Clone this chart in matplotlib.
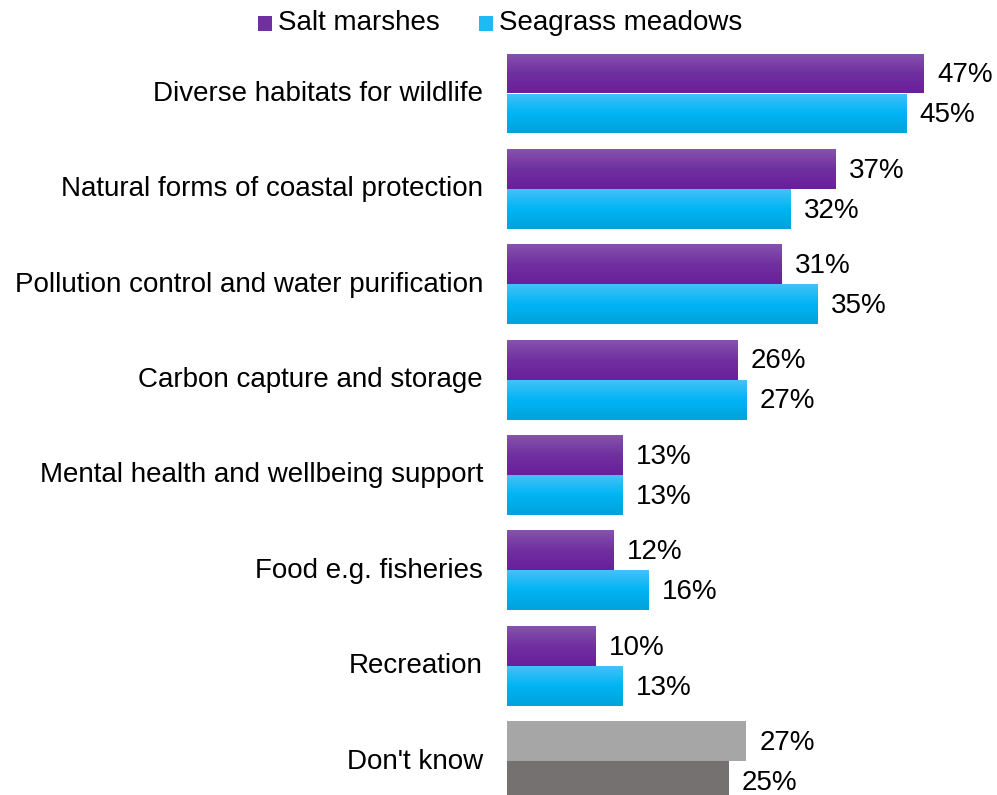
import matplotlib.pyplot as plt
import numpy as np
from matplotlib.colors import LinearSegmentedColormap
from matplotlib.patches import Rectangle

plt.rcParams['font.family'] = ['Liberation Sans', 'DejaVu Sans']

categories = ['Diverse habitats for wildlife', 'Natural forms of coastal protection',
              'Pollution control and water purification', 'Carbon capture and storage',
              'Mental health and wellbeing support', 'Food e.g. fisheries',
              'Recreation', "Don't know"]
salt_marshes = [47, 37, 31, 26, 13, 12, 10, 27]
seagrass = [45, 32, 35, 27, 13, 16, 13, 25]

purple_grad = LinearSegmentedColormap.from_list('pg', ['#8653ad', '#7030a0', '#6a1f9c'])
cyan_grad = LinearSegmentedColormap.from_list('cg', ['#45c1f8', '#00b4f4', '#00a2da'])

fig = plt.figure(figsize=(9.97, 7.95), dpi=100)
ax = fig.add_axes([507 / 997, 0, 490 / 997, 1])

pitch = 95.36
h = 40 / pitch
fs = 20

def grad_bar(y0, width, cmap):
    # y0 is the top edge of the bar (axis is inverted)
    rect = Rectangle((0, y0), width, h, facecolor='none', edgecolor='none')
    ax.add_patch(rect)
    grad = np.linspace(0, 1, 64).reshape(-1, 1)
    im = ax.imshow(grad, cmap=cmap, aspect='auto', extent=(0, width, y0 + h, y0),
                   interpolation='bilinear')
    im.set_clip_path(rect)

for i, (cat, a, b) in enumerate(zip(categories, salt_marshes, seagrass)):
    if cat == "Don't know":
        ax.barh(i - h / 2, a, height=h, color='#a6a6a6')
        ax.barh(i + h / 2, b, height=h, color='#767171')
    else:
        grad_bar(i - h, a, purple_grad)
        grad_bar(i, b, cyan_grad)
    ax.text(a + 1.5, i - h / 2 + 0.02, f'{a}%', va='center', ha='left', fontsize=fs)
    ax.text(b + 1.5, i + h / 2 + 0.02, f'{b}%', va='center', ha='left', fontsize=fs)
    fig.text(483 / 997, 1 - (94 + i * pitch) / 795, cat, ha='right', va='center', fontsize=fs)

ax.set_xlim(0, 490 / 8.87)
ax.set_ylim((795 - 93.5) / pitch, -93.5 / pitch)
ax.axis('off')

# legend
fig.patches.append(Rectangle((258 / 997, 1 - 31 / 795), 14 / 997, 15 / 795,
                             transform=fig.transFigure, facecolor='#7030a0', edgecolor='none'))
fig.text(278 / 997, 1 - 23 / 795, 'Salt marshes', ha='left', va='center', fontsize=fs)
fig.patches.append(Rectangle((479 / 997, 1 - 31 / 795), 14 / 997, 15 / 795,
                             transform=fig.transFigure, facecolor='#1ebaf6', edgecolor='none'))
fig.text(499 / 997, 1 - 23 / 795, 'Seagrass meadows', ha='left', va='center', fontsize=fs)

fig.savefig('out.png', dpi=100)
